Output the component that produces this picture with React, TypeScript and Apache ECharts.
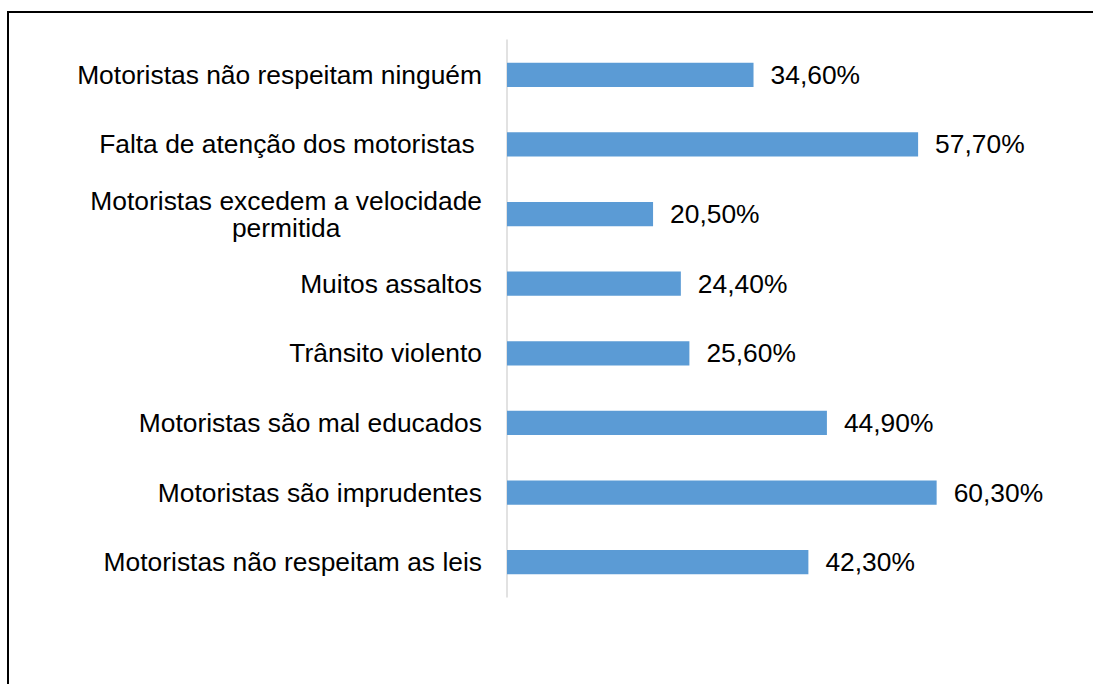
import React, { useEffect, useRef } from "react";
import * as echarts from "echarts";

const categories = [
  "Motoristas não respeitam ninguém",
  "Falta de atenção dos motoristas ",
  "Motoristas excedem a velocidade\npermitida",
  "Muitos assaltos",
  "Trânsito violento",
  "Motoristas são mal educados",
  "Motoristas são imprudentes",
  "Motoristas não respeitam as leis",
];

const values = [34.6, 57.7, 20.5, 24.4, 25.6, 44.9, 60.3, 42.3];

const FONT = "'Liberation Sans', Arial, sans-serif";
const FS = 26.4;

export default function App() {
  const ref = useRef<HTMLDivElement>(null);
  useEffect(() => {
    if (!ref.current) return;
    const chart = echarts.init(ref.current, null, { renderer: "svg" });
    chart.setOption({
      animation: false,
      backgroundColor: "#ffffff",
      textStyle: { fontFamily: FONT },
      grid: { left: 507, right: 16, top: 40, bottom: 87, containLabel: false },
      xAxis: {
        type: "value",
        min: 0,
        max: 80,
        show: false,
        splitLine: { show: false },
      },
      yAxis: {
        type: "category",
        data: categories,
        inverse: true,
        axisLine: { show: true, lineStyle: { color: "#d9d9d9", width: 1.5 } },
        axisTick: { show: false },
        axisLabel: {
          fontSize: FS,
          color: "#000000",
          fontFamily: FONT,
          margin: 25,
          lineHeight: 27,
          align: "right",
          formatter: (v: string) =>
            v.includes("\n")
              ? v
                  .split("\n")
                  .map((l) => `{c|${l}}`)
                  .join("\n")
              : v,
          rich: {
            c: {
              align: "center",
              fontSize: FS,
              lineHeight: 27,
              color: "#000000",
              fontFamily: FONT,
            },
          },
        },
      },
      series: [
        {
          type: "bar",
          data: values,
          barWidth: "35%",
          itemStyle: { color: "#5b9bd5" },
          label: {
            show: true,
            position: "right",
            distance: 17,
            fontSize: FS,
            color: "#000000",
            fontFamily: FONT,
            formatter: (p: any) => p.value.toFixed(2).replace(".", ",") + "%",
          },
        },
      ],
      graphic: [
        {
          type: "line",
          shape: { x1: 7, y1: 12, x2: 1093, y2: 12 },
          style: { stroke: "#000000", lineWidth: 2 },
        },
        {
          type: "line",
          shape: { x1: 8, y1: 11, x2: 8, y2: 684 },
          style: { stroke: "#000000", lineWidth: 2 },
        },
      ],
    });
    return () => chart.dispose();
  }, []);
  return (
    <div
      ref={ref}
      style={{ position: "absolute", left: 0, top: 0, width: 1093, height: 684 }}
    />
  );
}
